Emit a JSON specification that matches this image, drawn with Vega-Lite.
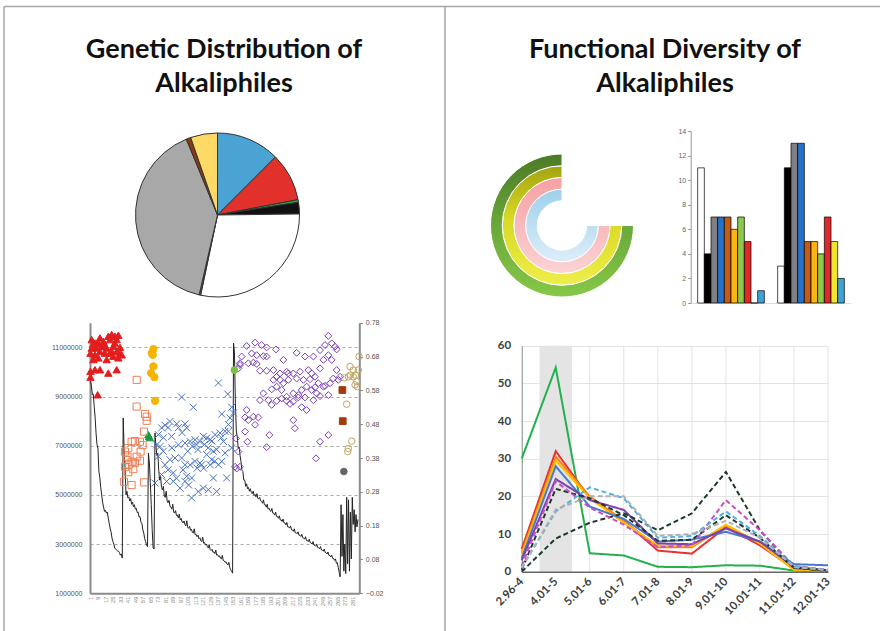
{
"$schema":"https://vega.github.io/schema/vega-lite/v6.json",
"width":880,"height":631,"autosize":{"type":"none"},"padding":0,"background":"white",
"config":{"view":{"stroke":null},"axis":{"labelFont":"Liberation Sans","labelFlush":false,"labelOverlap":false}},
"datasets":{
"genome":[{"i":1,"m":9.62},{"i":2,"m":9.45},{"i":3,"m":9.07},{"i":4,"m":9.1},{"i":5,"m":8.6},{"i":6,"m":8.13},{"i":7,"m":7.5},{"i":8,"m":7.04},{"i":9,"m":6.9},{"i":10,"m":5.96},{"i":11,"m":5.7},{"i":12,"m":5.3},{"i":13,"m":5.0},{"i":14,"m":4.7},{"i":15,"m":4.5},{"i":16,"m":4.33},{"i":17,"m":4.38},{"i":18,"m":4.26},{"i":19,"m":4.3},{"i":20,"m":4.06},{"i":21,"m":3.85},{"i":22,"m":3.65},{"i":23,"m":3.5},{"i":24,"m":3.25},{"i":25,"m":3.1},{"i":26,"m":3.0},{"i":27,"m":2.84},{"i":28,"m":2.8},{"i":29,"m":2.75},{"i":30,"m":2.72},{"i":31,"m":2.71},{"i":32,"m":2.65},{"i":33,"m":2.55},{"i":34,"m":2.6},{"i":35,"m":2.43},
{"i":36,"m":8.13},{"i":37,"m":6.9},{"i":38,"m":6.1},{"i":39,"m":5.0},{"i":40,"m":5.15},{"i":41,"m":4.88},{"i":42,"m":4.92},{"i":43,"m":4.75},{"i":44,"m":4.85},{"i":45,"m":4.62},{"i":46,"m":4.7},{"i":47,"m":4.52},{"i":48,"m":4.6},{"i":49,"m":4.42},{"i":50,"m":4.45},{"i":51,"m":4.28},{"i":52,"m":4.3},{"i":53,"m":4.1},{"i":54,"m":4.12},{"i":55,"m":3.88},{"i":56,"m":3.85},{"i":57,"m":3.58},{"i":58,"m":3.45},{"i":59,"m":3.22},{"i":60,"m":3.1},{"i":61,"m":2.95},{"i":62,"m":2.9},
{"i":63,"m":6.7},{"i":64,"m":6.3},{"i":65,"m":5.5},{"i":66,"m":4.6},{"i":67,"m":3.6},{"i":68,"m":2.84},{"i":69,"m":2.8},
{"i":70,"m":7.52},{"i":71,"m":7.0},{"i":72,"m":6.6},{"i":73,"m":6.7},{"i":74,"m":6.0},{"i":75,"m":5.6},{"i":76,"m":5.75},{"i":77,"m":5.3},{"i":78,"m":5.2},{"i":79,"m":5.35},{"i":80,"m":4.95},{"i":81,"m":4.9},{"i":82,"m":5.15},{"i":83,"m":4.75},{"i":84,"m":4.68},{"i":85,"m":4.78},{"i":86,"m":4.55},{"i":87,"m":4.5},{"i":88,"m":4.42},{"i":89,"m":4.62},{"i":90,"m":4.3},{"i":91,"m":4.26},{"i":92,"m":4.36},{"i":93,"m":4.16},{"i":94,"m":4.18},{"i":95,"m":4.06},{"i":96,"m":4.22},{"i":97,"m":3.98},{"i":98,"m":4.04},{"i":99,"m":3.9},{"i":100,"m":3.86},{"i":101,"m":3.94},{"i":102,"m":3.8},{"i":103,"m":3.74},{"i":104,"m":3.95},{"i":105,"m":3.68},{"i":106,"m":3.64},{"i":107,"m":3.72},{"i":108,"m":3.56},{"i":109,"m":3.6},{"i":110,"m":3.48},{"i":111,"m":3.45},{"i":112,"m":3.62},{"i":113,"m":3.38},{"i":114,"m":3.4},{"i":115,"m":3.3},{"i":116,"m":3.36},{"i":117,"m":3.22},{"i":118,"m":3.26},{"i":119,"m":3.14},{"i":120,"m":3.1},{"i":121,"m":3.28},{"i":122,"m":3.04},{"i":123,"m":3.06},{"i":124,"m":2.96},{"i":125,"m":3.0},{"i":126,"m":2.9},{"i":127,"m":2.84},{"i":128,"m":2.98},{"i":129,"m":2.78},{"i":130,"m":2.74},{"i":131,"m":2.79},{"i":132,"m":2.67},{"i":133,"m":2.68},{"i":134,"m":2.61},{"i":135,"m":2.76},{"i":136,"m":2.55},{"i":137,"m":2.57},{"i":138,"m":2.49},{"i":139,"m":2.52},{"i":140,"m":2.43},{"i":141,"m":2.4},{"i":142,"m":2.54},{"i":143,"m":2.34},{"i":144,"m":2.32},{"i":145,"m":2.26},{"i":146,"m":2.28},{"i":147,"m":2.19},{"i":148,"m":2.15},{"i":149,"m":2.26},{"i":150,"m":2.04},{"i":151,"m":1.96},{"i":152,"m":1.89},{"i":153,"m":1.82},
{"i":154,"m":11.17},{"i":155,"m":10.8},{"i":156,"m":8.7},{"i":157,"m":7.6},{"i":158,"m":7.35},{"i":159,"m":6.9},{"i":160,"m":6.95},{"i":161,"m":6.6},{"i":162,"m":6.35},{"i":163,"m":6.0},{"i":164,"m":5.95},{"i":165,"m":5.6},{"i":166,"m":5.6},{"i":167,"m":5.35},{"i":168,"m":5.45},{"i":169,"m":5.25},{"i":170,"m":5.3},{"i":171,"m":5.15},{"i":172,"m":5.25},{"i":173,"m":5.1},{"i":174,"m":5.05},{"i":175,"m":5.15},{"i":176,"m":4.98},{"i":177,"m":5.02},{"i":178,"m":4.92},{"i":179,"m":5.05},{"i":180,"m":4.86},{"i":181,"m":4.84},{"i":182,"m":4.9},{"i":183,"m":4.76},{"i":184,"m":4.74},{"i":185,"m":4.66},{"i":186,"m":4.8},{"i":187,"m":4.6},{"i":188,"m":4.6},{"i":189,"m":4.5},{"i":190,"m":4.62},{"i":191,"m":4.42},{"i":192,"m":4.46},{"i":193,"m":4.36},{"i":194,"m":4.33},{"i":195,"m":4.45},{"i":196,"m":4.26},{"i":197,"m":4.26},{"i":198,"m":4.18},{"i":199,"m":4.3},{"i":200,"m":4.12},{"i":201,"m":4.12},{"i":202,"m":4.05},{"i":203,"m":4.15},{"i":204,"m":3.98},{"i":205,"m":3.98},{"i":206,"m":3.92},{"i":207,"m":4.02},{"i":208,"m":3.86},{"i":209,"m":3.86},{"i":210,"m":3.78},{"i":211,"m":3.88},{"i":212,"m":3.7},{"i":213,"m":3.7},{"i":214,"m":3.65},{"i":215,"m":3.74},{"i":216,"m":3.58},{"i":217,"m":3.58},{"i":218,"m":3.52},{"i":219,"m":3.62},{"i":220,"m":3.46},{"i":221,"m":3.46},{"i":222,"m":3.42},{"i":223,"m":3.5},{"i":224,"m":3.36},{"i":225,"m":3.36},{"i":226,"m":3.31},{"i":227,"m":3.4},{"i":228,"m":3.26},{"i":229,"m":3.25},{"i":230,"m":3.2},{"i":231,"m":3.3},{"i":232,"m":3.15},{"i":233,"m":3.15},{"i":234,"m":3.1},{"i":235,"m":3.2},{"i":236,"m":3.06},{"i":237,"m":3.05},{"i":238,"m":3.0},{"i":239,"m":3.1},{"i":240,"m":2.96},{"i":241,"m":2.95},{"i":242,"m":2.91},{"i":243,"m":3.0},{"i":244,"m":2.86},{"i":245,"m":2.85},{"i":246,"m":2.81},{"i":247,"m":2.9},{"i":248,"m":2.76},{"i":249,"m":2.75},{"i":250,"m":2.71},{"i":251,"m":2.8},{"i":252,"m":2.66},{"i":253,"m":2.65},{"i":254,"m":2.6},{"i":255,"m":2.68},{"i":256,"m":2.54},{"i":257,"m":2.54},{"i":258,"m":2.48},{"i":259,"m":2.55},{"i":260,"m":2.42},{"i":261,"m":2.42},{"i":262,"m":2.34},{"i":263,"m":2.4},{"i":264,"m":2.22},{"i":265,"m":2.25},{"i":266,"m":2.05},{"i":267,"m":1.85},{"i":268,"m":1.67},
{"i":269,"m":4.6},{"i":270,"m":2.5},{"i":271,"m":4.2},{"i":272,"m":1.9},{"i":273,"m":3.0},{"i":274,"m":1.8},{"i":275,"m":4.9},{"i":276,"m":2.2},{"i":277,"m":4.8},{"i":278,"m":1.9},{"i":279,"m":4.3},{"i":280,"m":2.4},{"i":281,"m":4.9},{"i":282,"m":3.8},{"i":283,"m":4.4},{"i":284,"m":3.5},{"i":285,"m":4.2},{"i":286,"m":3.7},{"i":287,"m":4.0}],
"points":[
{"g":"g1","i":2.3,"r":0.73},{"g":"g1","i":5.8,"r":0.72},{"g":"g1","i":11.1,"r":0.735},{"g":"g1","i":14.8,"r":0.725},{"g":"g1","i":20.1,"r":0.74},{"g":"g1","i":23.7,"r":0.745},{"g":"g1","i":27.2,"r":0.74},{"g":"g1","i":30.8,"r":0.743},{"g":"g1","i":21.9,"r":0.73},{"g":"g1","i":29,"r":0.73},{"g":"g1","i":2.3,"r":0.705},{"g":"g1","i":7.6,"r":0.705},{"g":"g1","i":12.9,"r":0.71},{"g":"g1","i":18.3,"r":0.705},{"g":"g1","i":25.4,"r":0.71},{"g":"g1","i":32.6,"r":0.707},{"g":"g1","i":1,"r":0.69},{"g":"g1","i":5.8,"r":0.685},{"g":"g1","i":11.1,"r":0.695},{"g":"g1","i":16.5,"r":0.69},{"g":"g1","i":23.7,"r":0.695},{"g":"g1","i":29,"r":0.695},{"g":"g1","i":34.4,"r":0.685},{"g":"g1","i":9.4,"r":0.676},{"g":"g1","i":18.3,"r":0.671},{"g":"g1","i":25.4,"r":0.681},{"g":"g1","i":30.8,"r":0.676},{"g":"g1","i":32.6,"r":0.69},{"g":"g1","i":4.1,"r":0.671},{"g":"g1","i":1,"r":0.636},{"g":"g1","i":5.8,"r":0.641},{"g":"g1","i":11.1,"r":0.641},{"g":"g1","i":20.1,"r":0.631},{"g":"g1","i":29,"r":0.641},{"g":"g1","i":1,"r":0.619},{"g":"g1","i":8.7,"r":0.567},{"g":"g1","i":3.5,"r":0.715},{"g":"g1","i":9,"r":0.72},{"g":"g1","i":16,"r":0.715},{"g":"g1","i":27,"r":0.72},{"g":"g1","i":22,"r":0.69},
{"g":"g2","i":68.3,"r":0.702},{"g":"g2","i":66.5,"r":0.69},{"g":"g2","i":67.6,"r":0.685},{"g":"g2","i":68.3,"r":0.651},{"g":"g2","i":65.8,"r":0.631},{"g":"g2","i":69.4,"r":0.619},{"g":"g2","i":70.1,"r":0.549},
{"g":"g3","i":63.6,"r":0.444},{"g":"g3","i":62.9,"r":0.449},{"g":"g3","i":64.5,"r":0.44},
{"g":"g4","i":50.4,"r":0.611},{"g":"g4","i":50.4,"r":0.532},{"g":"g4","i":59.3,"r":0.51},{"g":"g4","i":61.1,"r":0.502},{"g":"g4","i":61.1,"r":0.49},{"g":"g4","i":58.2,"r":0.458},{"g":"g4","i":37.9,"r":0.399},{"g":"g4","i":41.4,"r":0.409},{"g":"g4","i":45,"r":0.428},{"g":"g4","i":48.6,"r":0.43},{"g":"g4","i":53.9,"r":0.428},{"g":"g4","i":56.8,"r":0.418},{"g":"g4","i":54.6,"r":0.399},{"g":"g4","i":39.6,"r":0.374},{"g":"g4","i":45,"r":0.369},{"g":"g4","i":48.6,"r":0.366},{"g":"g4","i":42.5,"r":0.361},{"g":"g4","i":37.9,"r":0.354},{"g":"g4","i":41.4,"r":0.338},{"g":"g4","i":46.8,"r":0.347},{"g":"g4","i":53.9,"r":0.372},{"g":"g4","i":36.8,"r":0.31},{"g":"g4","i":45,"r":0.3},{"g":"g4","i":58.2,"r":0.308},{"g":"g4","i":40.7,"r":0.384},{"g":"g4","i":50.4,"r":0.384},
{"g":"g5","i":137.8,"r":0.602},{"g":"g5","i":147.8,"r":0.569},{"g":"g5","i":98.5,"r":0.56},{"g":"g5","i":111,"r":0.53},{"g":"g5","i":141.4,"r":0.51},{"g":"g5","i":152.1,"r":0.53},{"g":"g5","i":153.9,"r":0.513},{"g":"g5","i":150.3,"r":0.498},{"g":"g5","i":148.5,"r":0.479},{"g":"g5","i":144.9,"r":0.459},{"g":"g5","i":80.7,"r":0.477},{"g":"g5","i":86,"r":0.488},{"g":"g5","i":93.2,"r":0.481},{"g":"g5","i":102.1,"r":0.481},{"g":"g5","i":103.9,"r":0.469},{"g":"g5","i":77.1,"r":0.469},{"g":"g5","i":73.6,"r":0.449},{"g":"g5","i":71.8,"r":0.419},{"g":"g5","i":75.4,"r":0.414},{"g":"g5","i":78.9,"r":0.4},{"g":"g5","i":87.8,"r":0.444},{"g":"g5","i":95,"r":0.419},{"g":"g5","i":102.1,"r":0.424},{"g":"g5","i":107.5,"r":0.429},{"g":"g5","i":112.8,"r":0.434},{"g":"g5","i":118.1,"r":0.429},{"g":"g5","i":121.7,"r":0.444},{"g":"g5","i":125.3,"r":0.439},{"g":"g5","i":128.9,"r":0.434},{"g":"g5","i":134.2,"r":0.449},{"g":"g5","i":139.6,"r":0.454},{"g":"g5","i":143.2,"r":0.429},{"g":"g5","i":148.5,"r":0.459},{"g":"g5","i":80.7,"r":0.36},{"g":"g5","i":86,"r":0.375},{"g":"g5","i":91.4,"r":0.38},{"g":"g5","i":98.5,"r":0.38},{"g":"g5","i":102.1,"r":0.36},{"g":"g5","i":107.5,"r":0.36},{"g":"g5","i":112.8,"r":0.37},{"g":"g5","i":118.1,"r":0.365},{"g":"g5","i":119.9,"r":0.36},{"g":"g5","i":130.6,"r":0.375},{"g":"g5","i":132.4,"r":0.4},{"g":"g5","i":136,"r":0.405},{"g":"g5","i":73.6,"r":0.385},{"g":"g5","i":77.1,"r":0.331},{"g":"g5","i":82.5,"r":0.311},{"g":"g5","i":89.6,"r":0.336},{"g":"g5","i":96.8,"r":0.291},{"g":"g5","i":103.9,"r":0.326},{"g":"g5","i":109.2,"r":0.321},{"g":"g5","i":116.3,"r":0.281},{"g":"g5","i":121.7,"r":0.291},{"g":"g5","i":127.1,"r":0.286},{"g":"g5","i":132.4,"r":0.321},{"g":"g5","i":136,"r":0.281},{"g":"g5","i":146.7,"r":0.321},{"g":"g5","i":109.2,"r":0.262},{"g":"g5","i":70,"r":0.306},{"g":"g5","i":89.6,"r":0.311},{"g":"g5","i":102.1,"r":0.311},{"g":"g5","i":125.3,"r":0.39},{"g":"g5","i":141.4,"r":0.37},{"g":"g5","i":152.1,"r":0.41},{"g":"g5","i":84,"r":0.47},{"g":"g5","i":95,"r":0.47},{"g":"g5","i":99,"r":0.455},{"g":"g5","i":105,"r":0.4},{"g":"g5","i":110,"r":0.415},{"g":"g5","i":114,"r":0.42},{"g":"g5","i":116,"r":0.405},{"g":"g5","i":123,"r":0.42},{"g":"g5","i":127,"r":0.41},{"g":"g5","i":131,"r":0.43},{"g":"g5","i":134,"r":0.37},{"g":"g5","i":138,"r":0.36},{"g":"g5","i":141,"r":0.44},{"g":"g5","i":145,"r":0.395},{"g":"g5","i":115,"r":0.35},{"g":"g5","i":100,"r":0.345},{"g":"g5","i":93,"r":0.32},{"g":"g5","i":84,"r":0.345},{"g":"g5","i":106,"r":0.3},{"g":"g5","i":122,"r":0.35},{"g":"g5","i":129,"r":0.36},{"g":"g5","i":88,"r":0.41},{"g":"g5","i":79,"r":0.44},
{"g":"g6","i":168.1,"r":0.711},{"g":"g6","i":177,"r":0.721},{"g":"g6","i":184.1,"r":0.714},{"g":"g6","i":189.4,"r":0.707},{"g":"g6","i":199.4,"r":0.701},{"g":"g6","i":162.7,"r":0.68},{"g":"g6","i":173.4,"r":0.689},{"g":"g6","i":178.8,"r":0.684},{"g":"g6","i":185.9,"r":0.681},{"g":"g6","i":189.4,"r":0.68},{"g":"g6","i":160.9,"r":0.66},{"g":"g6","i":169.8,"r":0.66},{"g":"g6","i":175.2,"r":0.662},{"g":"g6","i":178.8,"r":0.658},{"g":"g6","i":207.3,"r":0.67},{"g":"g6","i":221.5,"r":0.691},{"g":"g6","i":230.4,"r":0.68},{"g":"g6","i":239.4,"r":0.68},{"g":"g6","i":246.5,"r":0.699},{"g":"g6","i":251.8,"r":0.714},{"g":"g6","i":255.4,"r":0.741},{"g":"g6","i":259,"r":0.719},{"g":"g6","i":262.5,"r":0.709},{"g":"g6","i":264.3,"r":0.701},{"g":"g6","i":255.4,"r":0.684},{"g":"g6","i":250.1,"r":0.67},{"g":"g6","i":259,"r":0.67},{"g":"g6","i":246.5,"r":0.645},{"g":"g6","i":234,"r":0.64},{"g":"g6","i":237.6,"r":0.63},{"g":"g6","i":225.1,"r":0.635},{"g":"g6","i":217.9,"r":0.63},{"g":"g6","i":210.8,"r":0.635},{"g":"g6","i":212.6,"r":0.63},{"g":"g6","i":203.7,"r":0.63},{"g":"g6","i":196.6,"r":0.64},{"g":"g6","i":189.4,"r":0.638},{"g":"g6","i":182.3,"r":0.638},{"g":"g6","i":159.2,"r":0.645},{"g":"g6","i":160.9,"r":0.655},
{"g":"g6","i":196.6,"r":0.611},{"g":"g6","i":200.1,"r":0.62},{"g":"g6","i":203.7,"r":0.611},{"g":"g6","i":207.3,"r":0.601},{"g":"g6","i":212.6,"r":0.611},{"g":"g6","i":221.5,"r":0.615},{"g":"g6","i":228.7,"r":0.611},{"g":"g6","i":232.2,"r":0.591},{"g":"g6","i":235.8,"r":0.613},{"g":"g6","i":241.1,"r":0.62},{"g":"g6","i":244.7,"r":0.601},{"g":"g6","i":250.1,"r":0.591},{"g":"g6","i":251.8,"r":0.593},{"g":"g6","i":257.2,"r":0.601},{"g":"g6","i":260.7,"r":0.615},{"g":"g6","i":264.3,"r":0.64},{"g":"g6","i":267.9,"r":0.62},{"g":"g6","i":266.1,"r":0.611},{"g":"g6","i":255.4,"r":0.566},{"g":"g6","i":246.5,"r":0.563},{"g":"g6","i":241.1,"r":0.589},{"g":"g6","i":237.6,"r":0.581},{"g":"g6","i":226.9,"r":0.581},{"g":"g6","i":223.3,"r":0.566},{"g":"g6","i":217.9,"r":0.571},{"g":"g6","i":210.8,"r":0.561},{"g":"g6","i":205.5,"r":0.581},{"g":"g6","i":200.1,"r":0.591},{"g":"g6","i":194.8,"r":0.583},{"g":"g6","i":185.9,"r":0.571},{"g":"g6","i":182.3,"r":0.551},{"g":"g6","i":191.2,"r":0.551},{"g":"g6","i":194.8,"r":0.537},{"g":"g6","i":200.1,"r":0.549},{"g":"g6","i":205.5,"r":0.556},{"g":"g6","i":210.8,"r":0.549},{"g":"g6","i":214.4,"r":0.54},{"g":"g6","i":217.9,"r":0.547},{"g":"g6","i":223.3,"r":0.559},{"g":"g6","i":230.4,"r":0.559},{"g":"g6","i":239.4,"r":0.551},{"g":"g6","i":226.9,"r":0.53},{"g":"g6","i":232.2,"r":0.522},{"g":"g6","i":242.9,"r":0.571},
{"g":"g6","i":168.1,"r":0.522},{"g":"g6","i":175.2,"r":0.502},{"g":"g6","i":180.5,"r":0.5},{"g":"g6","i":166.3,"r":0.5},{"g":"g6","i":169.8,"r":0.492},{"g":"g6","i":177,"r":0.478},{"g":"g6","i":166.3,"r":0.458},{"g":"g6","i":168.8,"r":0.428},{"g":"g6","i":192.3,"r":0.448},{"g":"g6","i":189.4,"r":0.412},{"g":"g6","i":217.9,"r":0.492},{"g":"g6","i":219.7,"r":0.468},{"g":"g6","i":246.5,"r":0.428},{"g":"g6","i":255.4,"r":0.448},{"g":"g6","i":242.2,"r":0.379},{"g":"g6","i":156.7,"r":0.438},{"g":"g6","i":159.2,"r":0.399},{"g":"g6","i":155.6,"r":0.354},{"g":"g6","i":157.4,"r":0.349},{"g":"g6","i":160.9,"r":0.354},
{"g":"g7","i":154.9,"r":0.64},
{"g":"g8","i":270.4,"r":0.581},{"g":"g8","i":270.8,"r":0.489},
{"g":"g9","i":272,"r":0.34},
{"g":"g10","i":288.3,"r":0.68},{"g":"g10","i":278.6,"r":0.65},{"g":"g10","i":282.1,"r":0.64},{"g":"g10","i":287.5,"r":0.64},{"g":"g10","i":272.5,"r":0.617},{"g":"g10","i":276.8,"r":0.62},{"g":"g10","i":282.1,"r":0.62},{"g":"g10","i":285.7,"r":0.606},{"g":"g10","i":283.9,"r":0.596},{"g":"g10","i":286.4,"r":0.591},{"g":"g10","i":275,"r":0.539},{"g":"g10","i":280.4,"r":0.43},{"g":"g10","i":276.8,"r":0.408},{"g":"g10","i":276.1,"r":0.399},{"g":"g10","i":279,"r":0.625},{"g":"g10","i":284.5,"r":0.625}],
"lines":[
{"s":"L1","bin":"2.96-4","v":30},{"s":"L1","bin":"4.01-5","v":54.2},{"s":"L1","bin":"5.01-6","v":4.9},{"s":"L1","bin":"6.01-7","v":4.3},{"s":"L1","bin":"7.01-8","v":1.3},{"s":"L1","bin":"8.01-9","v":1.2},{"s":"L1","bin":"9.01-10","v":1.7},{"s":"L1","bin":"10.01-11","v":1.6},{"s":"L1","bin":"11.01-12","v":0.3},{"s":"L1","bin":"12.01-13","v":0},
{"s":"L2","bin":"2.96-4","v":6},{"s":"L2","bin":"4.01-5","v":32},{"s":"L2","bin":"5.01-6","v":19.5},{"s":"L2","bin":"6.01-7","v":13.5},{"s":"L2","bin":"7.01-8","v":5.6},{"s":"L2","bin":"8.01-9","v":4.8},{"s":"L2","bin":"9.01-10","v":11.8},{"s":"L2","bin":"10.01-11","v":7},{"s":"L2","bin":"11.01-12","v":0.8},{"s":"L2","bin":"12.01-13","v":0.2},
{"s":"L3","bin":"2.96-4","v":5},{"s":"L3","bin":"4.01-5","v":30.5},{"s":"L3","bin":"5.01-6","v":20},{"s":"L3","bin":"6.01-7","v":13.5},{"s":"L3","bin":"7.01-8","v":6.5},{"s":"L3","bin":"8.01-9","v":6.5},{"s":"L3","bin":"9.01-10","v":12.3},{"s":"L3","bin":"10.01-11","v":7.5},{"s":"L3","bin":"11.01-12","v":0.5},{"s":"L3","bin":"12.01-13","v":0.2},
{"s":"L4","bin":"2.96-4","v":4.5},{"s":"L4","bin":"4.01-5","v":29.5},{"s":"L4","bin":"5.01-6","v":19.5},{"s":"L4","bin":"6.01-7","v":13},{"s":"L4","bin":"7.01-8","v":7},{"s":"L4","bin":"8.01-9","v":6.8},{"s":"L4","bin":"9.01-10","v":12.5},{"s":"L4","bin":"10.01-11","v":7.5},{"s":"L4","bin":"11.01-12","v":0.5},{"s":"L4","bin":"12.01-13","v":0.1},
{"s":"L5","bin":"2.96-4","v":3.5},{"s":"L5","bin":"4.01-5","v":28},{"s":"L5","bin":"5.01-6","v":17.3},{"s":"L5","bin":"6.01-7","v":14},{"s":"L5","bin":"7.01-8","v":8},{"s":"L5","bin":"8.01-9","v":8.5},{"s":"L5","bin":"9.01-10","v":10.6},{"s":"L5","bin":"10.01-11","v":8},{"s":"L5","bin":"11.01-12","v":2},{"s":"L5","bin":"12.01-13","v":1.7},
{"s":"L6","bin":"2.96-4","v":3},{"s":"L6","bin":"4.01-5","v":24.6},{"s":"L6","bin":"5.01-6","v":19},{"s":"L6","bin":"6.01-7","v":16.4},{"s":"L6","bin":"7.01-8","v":7.5},{"s":"L6","bin":"8.01-9","v":7.3},{"s":"L6","bin":"9.01-10","v":11.5},{"s":"L6","bin":"10.01-11","v":8},{"s":"L6","bin":"11.01-12","v":1.3},{"s":"L6","bin":"12.01-13","v":0.4},
{"s":"L7","bin":"2.96-4","v":0.5},{"s":"L7","bin":"4.01-5","v":22},{"s":"L7","bin":"5.01-6","v":19.5},{"s":"L7","bin":"6.01-7","v":15},{"s":"L7","bin":"7.01-8","v":8.2},{"s":"L7","bin":"8.01-9","v":8.5},{"s":"L7","bin":"9.01-10","v":15},{"s":"L7","bin":"10.01-11","v":9},{"s":"L7","bin":"11.01-12","v":1},{"s":"L7","bin":"12.01-13","v":0.3},
{"s":"L8","bin":"2.96-4","v":0},{"s":"L8","bin":"4.01-5","v":8.8},{"s":"L8","bin":"5.01-6","v":13},{"s":"L8","bin":"6.01-7","v":15.5},{"s":"L8","bin":"7.01-8","v":11},{"s":"L8","bin":"8.01-9","v":15.5},{"s":"L8","bin":"9.01-10","v":26.5},{"s":"L8","bin":"10.01-11","v":11},{"s":"L8","bin":"11.01-12","v":1},{"s":"L8","bin":"12.01-13","v":0.2},
{"s":"L9","bin":"2.96-4","v":1.5},{"s":"L9","bin":"4.01-5","v":24},{"s":"L9","bin":"5.01-6","v":17},{"s":"L9","bin":"6.01-7","v":12.5},{"s":"L9","bin":"7.01-8","v":6.5},{"s":"L9","bin":"8.01-9","v":7},{"s":"L9","bin":"9.01-10","v":19},{"s":"L9","bin":"10.01-11","v":11},{"s":"L9","bin":"11.01-12","v":1.5},{"s":"L9","bin":"12.01-13","v":0.5},
{"s":"L10","bin":"2.96-4","v":1},{"s":"L10","bin":"4.01-5","v":16},{"s":"L10","bin":"5.01-6","v":22.4},{"s":"L10","bin":"6.01-7","v":19.5},{"s":"L10","bin":"7.01-8","v":9},{"s":"L10","bin":"8.01-9","v":9.5},{"s":"L10","bin":"9.01-10","v":16},{"s":"L10","bin":"10.01-11","v":9.5},{"s":"L10","bin":"11.01-12","v":1.5},{"s":"L10","bin":"12.01-13","v":0.4},
{"s":"L11","bin":"2.96-4","v":1},{"s":"L11","bin":"4.01-5","v":16.5},{"s":"L11","bin":"5.01-6","v":20},{"s":"L11","bin":"6.01-7","v":20},{"s":"L11","bin":"7.01-8","v":9.5},{"s":"L11","bin":"8.01-9","v":10},{"s":"L11","bin":"9.01-10","v":13.5},{"s":"L11","bin":"10.01-11","v":9},{"s":"L11","bin":"11.01-12","v":1.2},{"s":"L11","bin":"12.01-13","v":0.4}],
"bins":[{"bin":"2.96-4"},{"bin":"4.01-5"},{"bin":"5.01-6"},{"bin":"6.01-7"},{"bin":"7.01-8"},{"bin":"8.01-9"},{"bin":"9.01-10"},{"bin":"10.01-11"},{"bin":"11.01-12"},{"bin":"12.01-13"}]
},
"layer":[
{"data":{"values":[{"edge":0},{"edge":1}]},"mark":{"type":"rule","color":"#a6a6a6","strokeWidth":1.5},
 "encoding":{"x":{"field":"edge","type":"quantitative","scale":{"domain":[0,2],"range":[4,886],"nice":false,"zero":false},"axis":null},
  "y":{"datum":0,"type":"quantitative","scale":{"domain":[0,1],"range":[6.5,631],"nice":false,"zero":false},"axis":null},"y2":{"datum":1}}},
{"data":{"values":[{"edge":"top"}]},"mark":{"type":"rule","color":"#a6a6a6","strokeWidth":1.5},
 "encoding":{"x":{"datum":0,"type":"quantitative","scale":{"domain":[0,2],"range":[4,886],"nice":false,"zero":false},"axis":null},"x2":{"datum":2},
  "y":{"datum":0,"type":"quantitative","scale":{"domain":[0,1],"range":[6.5,631],"nice":false,"zero":false},"axis":null}}},
{"data":{"values":[{"panel":"Genetic","line":1,"text":"Genetic Distribution of"},{"panel":"Genetic","line":2,"text":"Alkaliphiles"},{"panel":"Functional","line":1,"text":"Functional Diversity of"},{"panel":"Functional","line":2,"text":"Alkaliphiles"}]},
 "mark":{"type":"text","font":"Lato","fontSize":27,"fontWeight":"bold","color":"#111111","align":"center","baseline":"alphabetic"},
 "encoding":{"x":{"field":"panel","type":"nominal","scale":{"type":"point","domain":["Genetic","Functional"],"range":[224,665],"padding":0},"axis":null},
  "y":{"field":"line","type":"ordinal","scale":{"type":"point","domain":[1,2],"range":[58,92],"padding":0},"axis":null},
  "text":{"field":"text"}}},
{"data":{"values":[{"taxon":"A","pct":12.5,"ord":1},{"taxon":"B","pct":9.5,"ord":2},{"taxon":"C","pct":0.5,"ord":3},{"taxon":"D","pct":2.3,"ord":4},{"taxon":"E","pct":28.5,"ord":5},{"taxon":"F","pct":0.3,"ord":6},{"taxon":"G","pct":40.2,"ord":7},{"taxon":"H","pct":0.9,"ord":8},{"taxon":"I","pct":5.3,"ord":9}]},
 "mark":{"type":"arc","outerRadius":82,"stroke":"#333333","strokeWidth":1},
 "encoding":{"theta":{"field":"pct","type":"quantitative","stack":true},"order":{"field":"ord","type":"quantitative"},
  "color":{"field":"taxon","type":"nominal","scale":{"domain":["A","B","C","D","E","F","G","H","I"],"range":["#4ba3d4","#e2302a","#22b04a","#111111","#ffffff","#3a6b2a","#a8a8a8","#8a3a10","#ffd966"]},"legend":null},
  "x":{"datum":1,"type":"quantitative","scale":{"domain":[0,2],"range":[135.5,299.5],"nice":false,"zero":false},"axis":null},
  "y":{"datum":1,"type":"quantitative","scale":{"domain":[0,2],"range":[133,297],"nice":false,"zero":false},"axis":null}}},
{"layer":[
 {"data":{"values":[{"ring":"R1","inner":0,"outer":1,"from":25,"to":100}]},
  "mark":{"type":"arc","stroke":"white","strokeWidth":1,"color":{"gradient":"linear","x1":0,"y1":0,"x2":0,"y2":1,"stops":[{"offset":0,"color":"#9fd0ec"},{"offset":1,"color":"#ddeef9"}]}},
  "encoding":{"theta":{"field":"from","type":"quantitative","stack":null,"scale":{"domain":[0,100],"range":[0,6.2832]}},"theta2":{"field":"to"},
   "radius":{"field":"inner","type":"quantitative","scale":{"type":"linear","domain":[0,4],"range":[24.7,71.5],"zero":false}},"radius2":{"field":"outer"},
   "x":{"datum":1,"type":"quantitative","scale":{"domain":[0,2],"range":[490.5,633.5],"nice":false,"zero":false},"axis":null},
   "y":{"datum":1,"type":"quantitative","scale":{"domain":[0,2],"range":[154,297],"nice":false,"zero":false},"axis":null}}},
 {"data":{"values":[{"ring":"R2","inner":1,"outer":2,"from":25,"to":100}]},
  "mark":{"type":"arc","stroke":"white","strokeWidth":1,"color":{"gradient":"linear","x1":0,"y1":0,"x2":0,"y2":1,"stops":[{"offset":0,"color":"#f6a0a3"},{"offset":1,"color":"#fbd3d4"}]}},
  "encoding":{"theta":{"field":"from","type":"quantitative","stack":null,"scale":{"domain":[0,100],"range":[0,6.2832]}},"theta2":{"field":"to"},
   "radius":{"field":"inner","type":"quantitative","scale":{"type":"linear","domain":[0,4],"range":[24.7,71.5],"zero":false}},"radius2":{"field":"outer"},
   "x":{"datum":1,"type":"quantitative","scale":{"domain":[0,2],"range":[490.5,633.5],"nice":false,"zero":false},"axis":null},
   "y":{"datum":1,"type":"quantitative","scale":{"domain":[0,2],"range":[154,297],"nice":false,"zero":false},"axis":null}}},
 {"data":{"values":[{"ring":"R3","inner":2,"outer":3,"from":25,"to":100}]},
  "mark":{"type":"arc","stroke":"white","strokeWidth":1,"color":{"gradient":"linear","x1":0,"y1":0,"x2":0,"y2":1,"stops":[{"offset":0,"color":"#a3a312"},{"offset":0.45,"color":"#d9d926"},{"offset":1,"color":"#eeee4a"}]}},
  "encoding":{"theta":{"field":"from","type":"quantitative","stack":null,"scale":{"domain":[0,100],"range":[0,6.2832]}},"theta2":{"field":"to"},
   "radius":{"field":"inner","type":"quantitative","scale":{"type":"linear","domain":[0,4],"range":[24.7,71.5],"zero":false}},"radius2":{"field":"outer"},
   "x":{"datum":1,"type":"quantitative","scale":{"domain":[0,2],"range":[490.5,633.5],"nice":false,"zero":false},"axis":null},
   "y":{"datum":1,"type":"quantitative","scale":{"domain":[0,2],"range":[154,297],"nice":false,"zero":false},"axis":null}}},
 {"data":{"values":[{"ring":"R4","inner":3,"outer":4,"from":25,"to":100}]},
  "mark":{"type":"arc","stroke":"white","strokeWidth":1,"color":{"gradient":"linear","x1":0,"y1":0,"x2":0,"y2":1,"stops":[{"offset":0,"color":"#4c7a26"},{"offset":0.5,"color":"#6aa83a"},{"offset":1,"color":"#86c847"}]}},
  "encoding":{"theta":{"field":"from","type":"quantitative","stack":null,"scale":{"domain":[0,100],"range":[0,6.2832]}},"theta2":{"field":"to"},
   "radius":{"field":"inner","type":"quantitative","scale":{"type":"linear","domain":[0,4],"range":[24.7,71.5],"zero":false}},"radius2":{"field":"outer"},
   "x":{"datum":1,"type":"quantitative","scale":{"domain":[0,2],"range":[490.5,633.5],"nice":false,"zero":false},"axis":null},
   "y":{"datum":1,"type":"quantitative","scale":{"domain":[0,2],"range":[154,297],"nice":false,"zero":false},"axis":null}}}
]},
{"data":{"values":[
{"cat":"Set 1","series":"S1","n":11},{"cat":"Set 1","series":"S2","n":4},{"cat":"Set 1","series":"S3","n":7},{"cat":"Set 1","series":"S4","n":7},{"cat":"Set 1","series":"S5","n":7},{"cat":"Set 1","series":"S6","n":6},{"cat":"Set 1","series":"S7","n":7},{"cat":"Set 1","series":"S8","n":5},{"cat":"Set 1","series":"S9","n":0},{"cat":"Set 1","series":"S10","n":1},
{"cat":"Set 2","series":"S1","n":3},{"cat":"Set 2","series":"S2","n":11},{"cat":"Set 2","series":"S3","n":13},{"cat":"Set 2","series":"S4","n":13},{"cat":"Set 2","series":"S5","n":5},{"cat":"Set 2","series":"S6","n":5},{"cat":"Set 2","series":"S7","n":4},{"cat":"Set 2","series":"S8","n":7},{"cat":"Set 2","series":"S9","n":5},{"cat":"Set 2","series":"S10","n":2}]},
 "mark":{"type":"bar","stroke":"#000000","strokeWidth":0.7},
 "encoding":{"x":{"field":"cat","type":"nominal","scale":{"type":"band","domain":["Set 1","Set 2"],"range":[691,851],"paddingInner":0.1667,"paddingOuter":0.0833},"axis":{"orient":"bottom","offset":-328,"labels":false,"ticks":false,"domainColor":"#dddddd","title":null}},
  "xOffset":{"field":"series","type":"nominal","scale":{"domain":["S1","S2","S3","S4","S5","S6","S7","S8","S9","S10"],"paddingInner":0,"paddingOuter":0}},
  "y":{"field":"n","type":"quantitative","scale":{"domain":[0,14],"range":[303,131],"nice":false,"zero":false},"axis":{"orient":"left","offset":-690.7,"values":[0,2,4,6,8,10,12,14],"title":null,"tickSize":3,"tickColor":"#999999","labelFontSize":7,"labelColor":"#666666","labelPadding":2,"domainColor":"#999999","grid":false}},
  "color":{"field":"series","type":"nominal","scale":{"domain":["S1","S2","S3","S4","S5","S6","S7","S8","S9","S10"],"range":["#ffffff","#000000","#808080","#2672c8","#c55a11","#fbb416","#8cc84b","#e02828","#f2e52e","#3fa3d8"]},"legend":null}}},
{"layer":[
 {"data":{"values":[{"bin":"4.01-5"}]},"mark":{"type":"rect","width":32.4,"color":"#e4e4e4"},
  "encoding":{"x":{"field":"bin","type":"nominal","scale":{"type":"point","domain":["2.96-4","4.01-5","5.01-6","6.01-7","7.01-8","8.01-9","9.01-10","10.01-11","11.01-12","12.01-13"],"range":[521.7,828],"padding":0}},
   "y":{"datum":0,"type":"quantitative","scale":{"domain":[0,60],"range":[571.7,345.7],"nice":false,"zero":false}},"y2":{"datum":60}}},
 {"data":{"name":"bins"},"mark":{"type":"rule","color":"#e3e3e3","strokeWidth":1},
  "encoding":{"x":{"field":"bin","type":"nominal","scale":{"type":"point","domain":["2.96-4","4.01-5","5.01-6","6.01-7","7.01-8","8.01-9","9.01-10","10.01-11","11.01-12","12.01-13"],"range":[521.7,828],"padding":0}},
   "y":{"datum":0,"type":"quantitative","scale":{"domain":[0,60],"range":[571.7,345.7],"nice":false,"zero":false}},"y2":{"datum":60}}},
 {"data":{"name":"lines"},"mark":{"type":"line","strokeWidth":2},
  "encoding":{"x":{"field":"bin","type":"nominal","sort":null,"scale":{"type":"point","domain":["2.96-4","4.01-5","5.01-6","6.01-7","7.01-8","8.01-9","9.01-10","10.01-11","11.01-12","12.01-13"],"range":[521.7,828],"padding":0},
    "axis":{"orient":"bottom","offset":-59.3,"labelAngle":-45,"labelFont":"Lato","labelFontSize":11.5,"labelFontWeight":"bold","labelColor":"#404040","ticks":false,"labelPadding":8,"domainColor":"#666666","domainWidth":1.5,"title":null,"grid":false}},
   "y":{"field":"v","type":"quantitative","scale":{"domain":[0,60],"range":[571.7,345.7],"nice":false,"zero":false},
    "axis":{"orient":"left","offset":-521.7,"values":[0,10,20,30,40,50,60],"title":null,"ticks":false,"labelFont":"Lato","labelFontSize":11.5,"labelFontWeight":"bold","labelColor":"#404040","labelPadding":11,"domainColor":"#87a08a","domainWidth":1.5,"grid":true,"gridColor":"#e3e3e3"}},
   "color":{"field":"s","type":"nominal","scale":{"domain":["L1","L2","L3","L4","L5","L6","L7","L8","L9","L10","L11"],"range":["#22b14c","#e8322d","#f5821f","#ffc000","#4a78d0","#7e3faf","#1e3a2f","#1e3a2f","#c84fc4","#4fb3e0","#b0b0b0"]},"legend":null},
   "strokeDash":{"field":"s","type":"nominal","scale":{"domain":["L1","L2","L3","L4","L5","L6","L7","L8","L9","L10","L11"],"range":[[1,0],[1,0],[1,0],[1,0],[1,0],[1,0],[5,3],[5,3],[5,3],[5,3],[5,3]]},"legend":null}}}
]},
{"layer":[
 {"data":{"name":"genome"},"mark":{"type":"line","color":"#222222","strokeWidth":1},
  "encoding":{"x":{"field":"i","type":"quantitative","scale":{"domain":[0.5,288.5],"range":[90,359.3],"nice":false,"zero":false},
    "axis":{"orient":"bottom","offset":-37.7,"values":[1,9,17,25,33,41,49,57,65,73,81,89,97,105,113,121,129,137,145,153,161,169,177,185,193,201,209,217,225,233,241,249,257,265,273,281],"labelAngle":-90,"labelFontSize":5.5,"labelColor":"#888888","labelOverlap":false,"ticks":false,"labelPadding":3,"domainColor":"#8c8c8c","domainWidth":2,"title":null,"grid":false}},
   "y":{"field":"m","type":"quantitative","scale":{"domain":[1,12],"range":[593.3,322.7],"nice":false,"zero":false},
    "axis":{"orient":"left","offset":-90,"values":[1,3,5,7,9,11],"labelExpr":"format(datum.value*1000000,'d')","title":null,"ticks":false,"labelFontSize":7,"labelColor":"#555555","labelPadding":8,"domainColor":"#8c8c8c","domainWidth":2,"grid":true,"gridDash":[3,3],"gridColor":"#aaaaaa"}}}},
 {"data":{"name":"points"},"mark":{"type":"point","filled":true,"strokeWidth":1,"opacity":1},
  "encoding":{"x":{"field":"i","type":"quantitative","scale":{"domain":[0.5,288.5],"range":[90,359.3],"nice":false,"zero":false},
    "axis":{"orient":"bottom","offset":-37.7,"values":[1,9,17,25,33,41,49,57,65,73,81,89,97,105,113,121,129,137,145,153,161,169,177,185,193,201,209,217,225,233,241,249,257,265,273,281],"labelAngle":-90,"labelFontSize":5.5,"labelColor":"#888888","labelOverlap":false,"ticks":false,"labelPadding":3,"domainColor":"#8c8c8c","domainWidth":2,"title":null,"grid":false}},
   "y":{"field":"r","type":"quantitative","scale":{"domain":[-0.02,0.78],"range":[593.3,322.7],"nice":false,"zero":false},
    "axis":{"orient":"right","offset":-520.7,"values":[-0.02,0.08,0.18,0.28,0.38,0.48,0.58,0.68,0.78],"format":".2f","title":null,"tickSize":3,"tickColor":"#888888","labelFontSize":7,"labelColor":"#555555","labelPadding":3,"domainColor":"#8c8c8c","domainWidth":2,"grid":false}},
   "shape":{"field":"g","type":"nominal","scale":{"domain":["g1","g2","g3","g4","g5","g6","g7","g8","g9","g10"],"range":["triangle-up","circle","triangle-up","square","M-1,-1L1,1M-1,1L1,-1","diamond","circle","square","circle","circle"]},"legend":null},
   "fill":{"field":"g","type":"nominal","scale":{"domain":["g1","g2","g3","g4","g5","g6","g7","g8","g9","g10"],"range":["#e31e1e","#f5b400","#1a9a3a","transparent","transparent","transparent","#7cc142","#a23b0a","#666666","transparent"]},"legend":null},
   "stroke":{"field":"g","type":"nominal","scale":{"domain":["g1","g2","g3","g4","g5","g6","g7","g8","g9","g10"],"range":["#e31e1e","#f5b400","#1a9a3a","#f07f52","#4a72c0","#7a3fb8","#7cc142","#a23b0a","#666666","#bfa562"]},"legend":null},
   "size":{"field":"g","type":"ordinal","scale":{"domain":["g1","g2","g3","g4","g5","g6","g7","g8","g9","g10"],"range":[55,42,45,50,38,40,45,40,50,50]},"legend":null}}}
 ],
 "resolve":{"scale":{"y":"independent"},"axis":{"y":"independent"}}}
],
"resolve":{"scale":{"x":"independent","y":"independent","color":"independent","fill":"independent","stroke":"independent","shape":"independent","size":"independent","strokeDash":"independent","theta":"independent","radius":"independent","xOffset":"independent"},"axis":{"x":"independent","y":"independent"}}
}
